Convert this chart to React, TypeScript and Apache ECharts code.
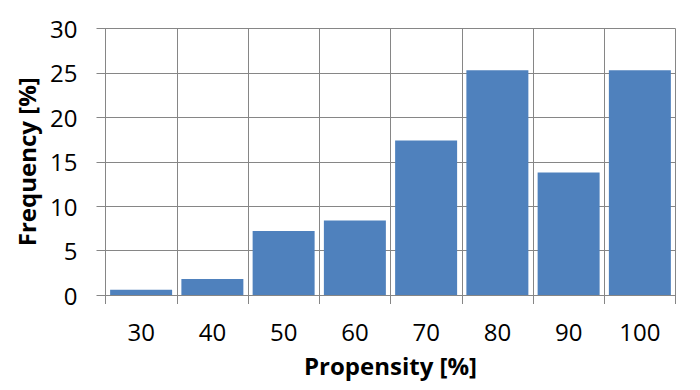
import React, { useEffect, useRef } from "react";
import * as echarts from "echarts";

const categories = ["30", "40", "50", "60", "70", "80", "90", "100"];
const frequency = [0.6, 1.8, 7.2, 8.4, 17.4, 25.3, 13.8, 25.3];
const yTicks = { min: 0, max: 30, interval: 5 };

const LINE = "#868686";
const FONT = "'Open Sans', 'Noto Sans', sans-serif";

export default function App() {
  const ref = useRef<HTMLDivElement>(null);
  useEffect(() => {
    if (!ref.current) return;
    const chart = echarts.init(ref.current, undefined, { renderer: "svg" });
    chart.setOption({
      animation: false,
      backgroundColor: "#ffffff",
      grid: { left: 105.5, right: 24.5, top: 28.5, bottom: 95, containLabel: false },
      xAxis: {
        type: "category",
        data: categories,
        name: "Propensity [%]",
        nameLocation: "middle",
        nameGap: 58,
        nameTextStyle: { fontFamily: FONT, fontSize: 24, fontWeight: "bold", color: "#000" },
        axisLine: { show: true, lineStyle: { color: LINE, width: 1 } },
        axisTick: { show: true, length: 9, interval: 0, lineStyle: { color: LINE } },
        splitLine: { show: true, interval: 0, lineStyle: { color: LINE, width: 1 } },
        axisLabel: { fontFamily: FONT, fontSize: 24, color: "#000", margin: 24, interval: 0 },
      },
      yAxis: {
        type: "value",
        min: yTicks.min,
        max: yTicks.max,
        interval: yTicks.interval,
        name: "Frequency [%]",
        nameLocation: "middle",
        nameGap: 67,
        nameTextStyle: { fontFamily: FONT, fontSize: 24, fontWeight: "bold", color: "#000" },
        axisLine: { show: true, lineStyle: { color: LINE, width: 1 } },
        axisTick: { show: true, length: 9, inside: false, lineStyle: { color: LINE } },
        splitLine: { show: true, lineStyle: { color: LINE, width: 1 } },
        axisLabel: { fontFamily: FONT, fontSize: 24, color: "#000", margin: 28 },
      },
      series: [
        {
          type: "bar",
          data: frequency,
          barCategoryGap: "13%",
          itemStyle: { color: "#4F81BD" },
        },
      ],
    });
    return () => chart.dispose();
  }, []);
  return <div ref={ref} style={{ width: 700, height: 390, margin: -8 }} />;
}
